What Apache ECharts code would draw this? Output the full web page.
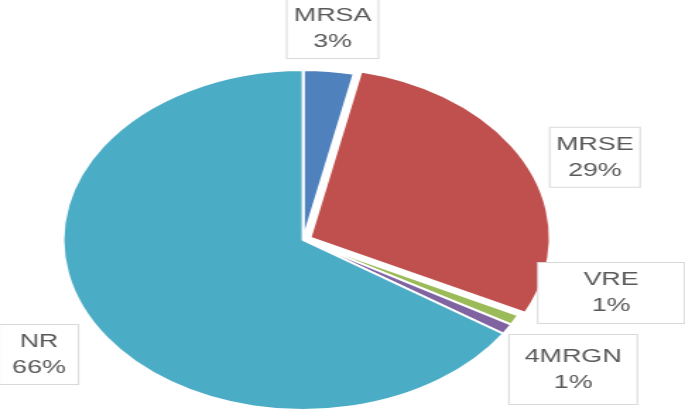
<!DOCTYPE html>
<html>
<head>
<meta charset="utf-8">
<script src="https://cdn.jsdelivr.net/npm/echarts@6/dist/echarts.min.js"></script>
<style>
html,body{margin:0;padding:0;background:#fff;}
#wrap{position:absolute;left:0;top:0;width:685px;height:411px;overflow:hidden;background:#fff;}
#chart{width:485px;height:411px;transform:scaleX(1.41237);transform-origin:0 0;}
</style>
</head>
<body>
<div id="wrap"><div id="chart"></div></div>
<script>
// Data
const categories = ['MRSA', 'MRSE', 'VRE', '4MRGN', 'NR'];
const values = [3.4, 28.9, 1.0, 1.0, 65.7];
const colors = ['#4F81BD', '#C0504D', '#9BBB59', '#8064A2', '#4BACC6'];
const exploded = [false, true, false, false, false];

// Label box layout (unscaled chart coordinates): center x, center y, width, height
const labelCx = [235.5, 412.5, 432.7, 405.8, 27.6];
const labelCy = [29, 130.5, 293, 369.5, 354.5];
const labelW = [64, 63, 103, 90, 55];
const labelH = [52, 53, 54, 63, 53];

const chart = echarts.init(document.getElementById('chart'), null, {renderer: 'canvas'});

const data = categories.map((c, i) => ({
  name: c,
  value: values[i],
  selected: exploded[i],
  itemStyle: {color: colors[i]},
  label: {width: labelW[i], height: labelH[i]}
}));

chart.setOption({
  animation: false,
  backgroundColor: '#fff',
  series: [{
    type: 'pie',
    center: [214.6, 240],
    radius: 170,
    startAngle: 90,
    clockwise: true,
    percentPrecision: 0,
    selectedMode: 'multiple',
    selectedOffset: 5.5,
    avoidLabelOverlap: false,
    itemStyle: {borderColor: '#ffffff', borderWidth: 2},
    emphasis: {disabled: true},
    select: {itemStyle: {borderColor: '#ffffff', borderWidth: 2}},
    labelLine: {show: false},
    label: {
      show: true,
      position: 'outside',
      formatter: '{b}\n{d}%',
      fontFamily: 'Liberation Sans, Arial, sans-serif',
      fontSize: 19,
      lineHeight: 26,
      color: '#595959',
      align: 'center',
      verticalAlign: 'middle',
      backgroundColor: '#ffffff',
      borderColor: '#d9d9d9',
      borderWidth: 1,
      padding: [3, 0]
    },
    labelLayout: function (p) {
      const i = p.dataIndex;
      return {x: labelCx[i], y: labelCy[i], align: 'center', verticalAlign: 'middle'};
    },
    data: data
  }]
});
</script>
</body>
</html>
